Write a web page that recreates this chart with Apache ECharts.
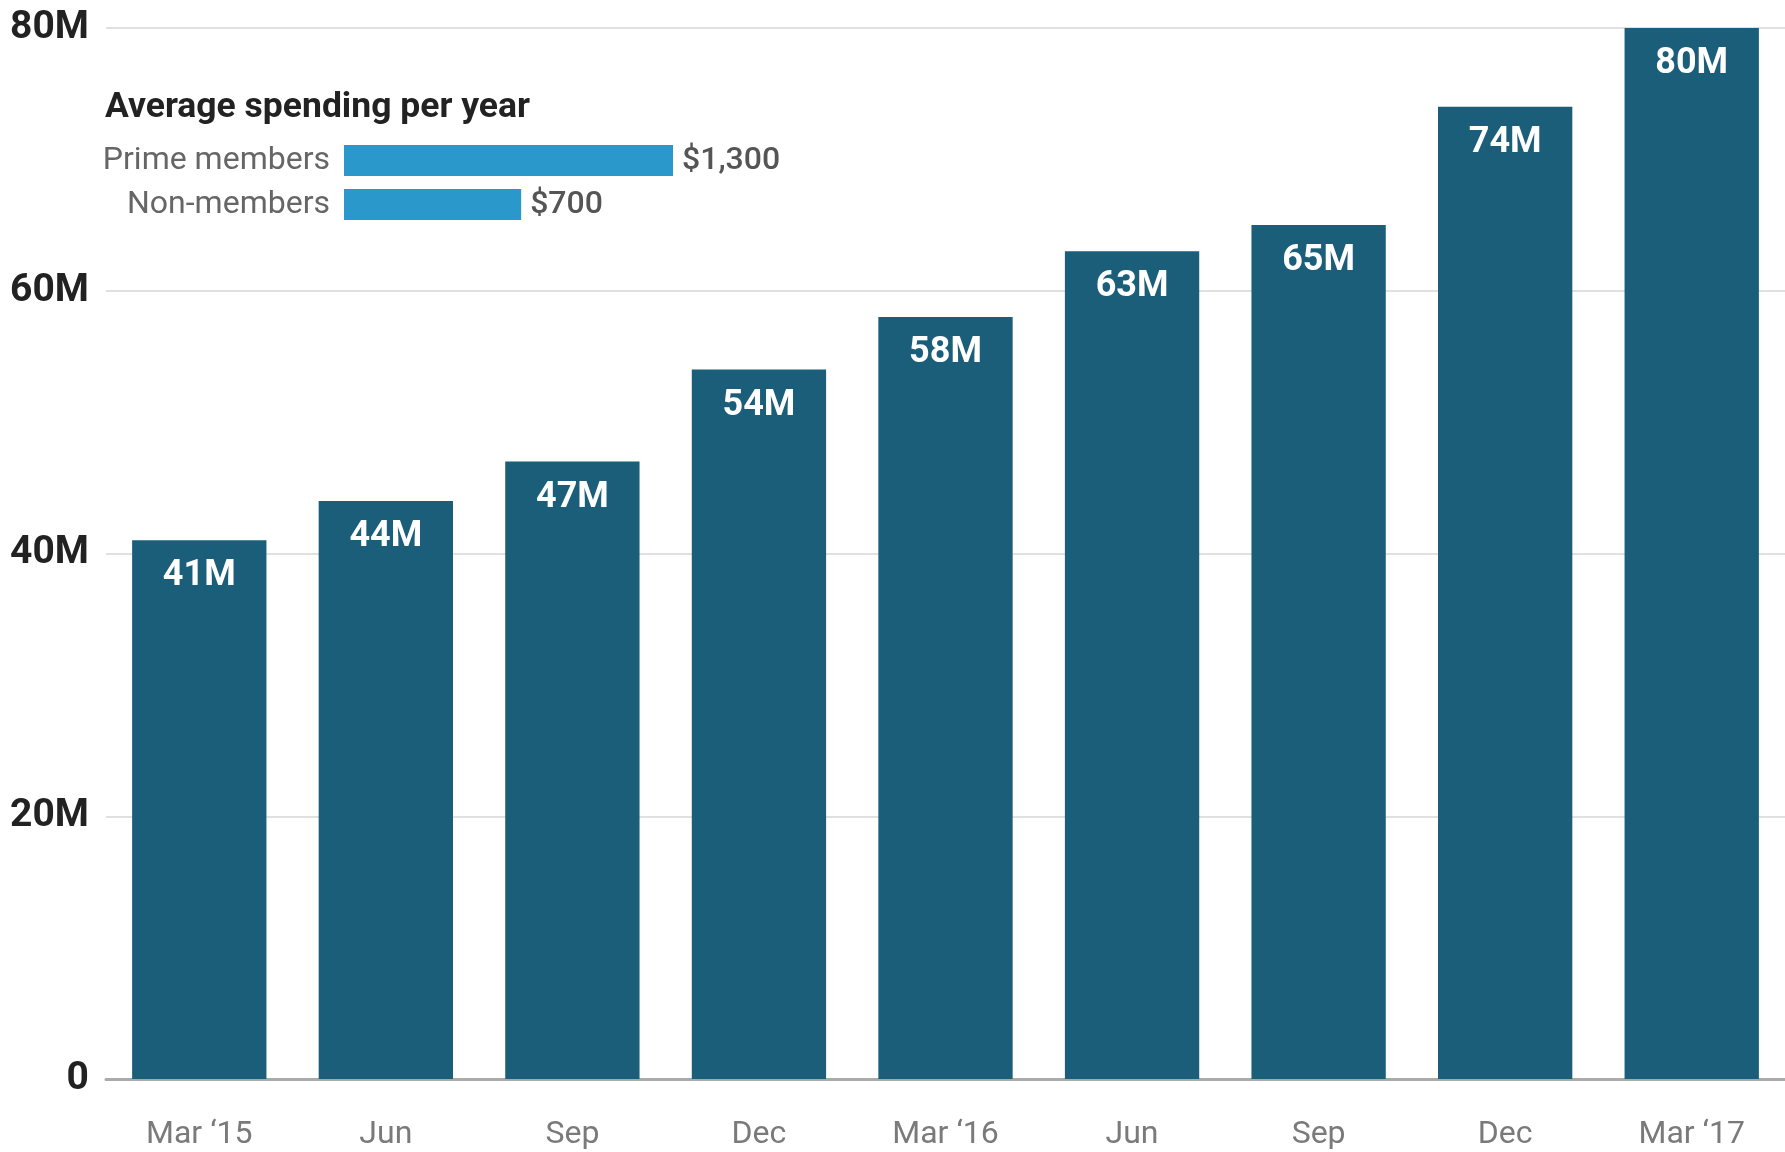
<!DOCTYPE html>
<html>
<head>
<meta charset="utf-8">
<script src="https://cdn.jsdelivr.net/npm/echarts@6/dist/echarts.min.js"></script>
<style>
  html, body { margin: 0; padding: 0; background: #fff; }
  #chart { width: 1785px; height: 1152px; }
</style>
</head>
<body>
<div id="chart"></div>
<script>
// Quarterly Prime membership (millions)
const quarters = ['Mar \u201815', 'Jun', 'Sep', 'Dec', 'Mar \u201816', 'Jun', 'Sep', 'Dec', 'Mar \u201817'];
const members = [41, 44, 47, 54, 58, 63, 65, 74, 80];
const yTicks = [0, 20, 40, 60, 80];

// Inset: average yearly spending (USD)
const spendGroups = ['Prime members', 'Non-members'];
const spendValues = [1300, 700];

const FONT = 'Roboto, "Noto Sans", sans-serif';

const chart = echarts.init(document.getElementById('chart'));
chart.setOption({
  animation: false,
  backgroundColor: '#ffffff',
  textStyle: { fontFamily: FONT },
  title: {
    text: 'Average spending per year',
    left: 100,
    top: 85,
    textStyle: { fontFamily: FONT, fontSize: 35.5, fontWeight: 'bold', color: '#222222' }
  },
  grid: [
    { left: 106, top: 28, width: 1681, height: 1051, containLabel: false },
    { left: 344, top: 138.5, width: 329, height: 88, containLabel: false }
  ],
  xAxis: [
    {
      type: 'category',
      gridIndex: 0,
      data: quarters,
      axisTick: { show: false },
      axisLine: { show: true, lineStyle: { color: '#aaaaaa', width: 3 } },
      axisLabel: {
        color: '#7a7a7a',
        fontFamily: FONT,
        fontSize: 32,
        margin: 40,
        verticalAlign: 'top'
      }
    },
    {
      type: 'value',
      gridIndex: 1,
      min: 0,
      max: spendValues[0],
      show: false
    }
  ],
  yAxis: [
    {
      type: 'value',
      gridIndex: 0,
      min: yTicks[0],
      max: yTicks[yTicks.length - 1],
      interval: yTicks[1] - yTicks[0],
      axisLine: { show: false },
      axisTick: { show: false },
      splitLine: { lineStyle: { color: '#e0e0e0', width: 2 } },
      axisLabel: {
        color: '#222222',
        fontFamily: FONT,
        fontSize: 39,
        fontWeight: 'bold',
        margin: 17,
        padding: [0, 0, 8, 0],
        formatter: v => (v === 0 ? '0' : v + 'M')
      }
    },
    {
      type: 'category',
      gridIndex: 1,
      data: spendGroups,
      inverse: true,
      axisLine: { show: false },
      axisTick: { show: false },
      axisLabel: {
        color: '#666666',
        fontFamily: FONT,
        fontSize: 32,
        margin: 14,
        padding: [5, 0, 0, 0]
      }
    }
  ],
  series: [
    {
      type: 'bar',
      xAxisIndex: 0,
      yAxisIndex: 0,
      data: members,
      barCategoryGap: '28%',
      itemStyle: { color: '#1a5e7a' },
      label: {
        show: true,
        position: 'insideTop',
        distance: 18,
        color: '#ffffff',
        fontFamily: FONT,
        fontSize: 36,
        fontWeight: 'bold',
        formatter: '{c}M'
      }
    },
    {
      type: 'bar',
      xAxisIndex: 1,
      yAxisIndex: 1,
      data: spendValues,
      barWidth: 31,
      itemStyle: { color: '#2a98ca' },
      label: {
        show: true,
        position: 'right',
        distance: 9,
        color: '#555555',
        fontFamily: FONT,
        fontSize: 32,
        fontWeight: 500,
        padding: [5, 0, 0, 0],
        formatter: p => '$' + p.value.toLocaleString('en-US')
      }
    }
  ]
});
</script>
</body>
</html>
